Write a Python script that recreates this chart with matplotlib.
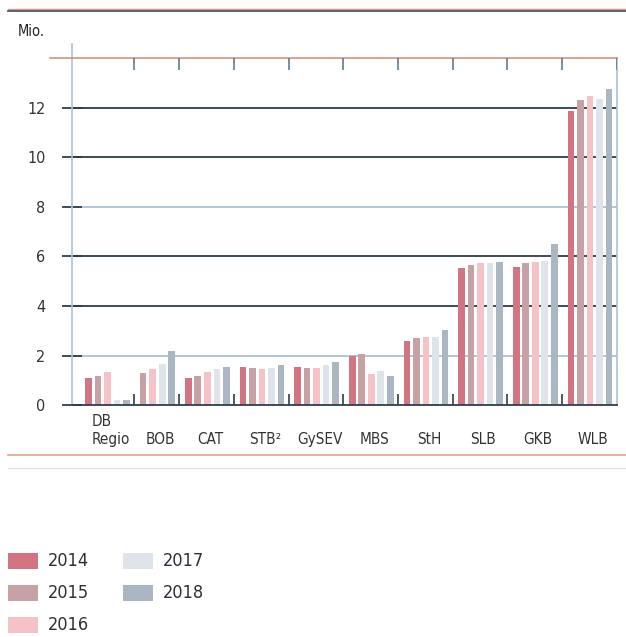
import numpy as np
import matplotlib
matplotlib.use("Agg")
import matplotlib.pyplot as plt
from matplotlib.lines import Line2D
from matplotlib.patches import Rectangle
from matplotlib.transforms import blended_transform_factory

plt.rcParams['font.family'] = ['DejaVu Sans']
plt.rcParams['font.stretch'] = 'condensed'

# data (Mio.)
categories = ["DB\nRegio", "BOB", "CAT", "STB²", "GySEV", "MBS", "StH", "SLB", "GKB", "WLB"]
years = ["2014", "2015", "2016", "2017", "2018"]
v2014 = [1.1, np.nan, 1.1, 1.55, 1.55, 2.0, 2.59, 5.54, 5.58, 11.88]
v2015 = [1.18, 1.3, 1.18, 1.5, 1.5, 2.07, 2.71, 5.66, 5.74, 12.32]
v2016 = [1.33, 1.46, 1.34, 1.46, 1.5, 1.26, 2.75, 5.74, 5.78, 12.48]
v2017 = [0.2, 1.67, 1.46, 1.5, 1.63, 1.38, 2.75, 5.74, 5.82, 12.36]
v2018 = [0.22, 2.2, 1.55, 1.63, 1.75, 1.18, 3.03, 5.78, 6.5, 12.73]
yticks = [0, 2, 4, 6, 8, 10, 12]

series = [v2014, v2015, v2016, v2017, v2018]
colors = ["#d27482", "#c6a2a6", "#f5c3c7", "#dfe4ea", "#aab6c2"]
dark = "#2e3d4c"
light = "#a9c3d6"
grid_colors = {2: light, 4: dark, 6: dark, 8: light, 10: dark, 12: dark}

fig = plt.figure(figsize=(6.26, 6.37), dpi=100)
ax = fig.add_axes([0.115, 0.364, 0.8706, 0.545])

gap = 1.74
x = 0.0
centers = []
bounds = []
for i, cat in enumerate(categories):
    xs = []
    for j, s in enumerate(series):
        if np.isnan(s[i]):
            continue
        ax.bar(x, s[i], width=0.7, color=colors[j], zorder=2)
        xs.append(x)
        x += 1
    centers.append(np.mean(xs))
    bounds.append(xs[-1] + 0.8)
    x += gap - 1

ax.set_xlim(-1.73, x - gap + 1 + 0.84 - 1)
ax.set_ylim(0, 14)

for v, c in grid_colors.items():
    ax.axhline(v, color=c, lw=1.3, zorder=1)

# group separator ticks
ax.vlines(bounds[:-1], 0, 0.45, color=dark, lw=1.2, zorder=3)
ax.vlines(bounds, 13.5, 14, color="#5f7a90", lw=1.2, zorder=3)

ax.set_xticks([])
ax.set_yticks(yticks)
ax.set_yticklabels([str(t) for t in yticks], fontsize=11.5, color="#333333")
ax.tick_params(axis='y', direction='inout', length=14, width=1.3, pad=12, color=dark)
for t in ax.yaxis.get_major_ticks():
    pass

for side in ['left', 'right']:
    ax.spines[side].set_color(light)
    ax.spines[side].set_linewidth(1.2)
ax.spines['bottom'].set_color(dark)
ax.spines['bottom'].set_linewidth(1.3)
ax.spines['top'].set_color("#d9907f")
ax.spines['top'].set_linewidth(1.2)
ax.plot([0, 0], [1, 1.04], transform=ax.transAxes, color=light, lw=1.2, clip_on=False)
ax.plot([-0.04, 0], [1, 1], transform=ax.transAxes, color="#d9907f", lw=1.2, clip_on=False)

trans = blended_transform_factory(ax.transData, ax.transAxes)
for c, lab in zip(centers, categories):
    ax.text(c + 0.3, -0.121, lab, transform=trans, ha='center', va='bottom',
            multialignment='left', fontsize=11, color="#333333", linespacing=1.25)

fig.text(18 / 626, 1 - 32 / 637, "Mio.", fontsize=10.5, va='center', ha='left', color="#222222")

# page rules
fig.add_artist(Line2D([0.012, 1], [1 - 9 / 637] * 2, color="#e8917a", lw=1.0))
fig.add_artist(Line2D([0.012, 1], [1 - 11 / 637] * 2, color="#3d4a57", lw=1.2))
fig.add_artist(Line2D([0.012, 1], [1 - 455 / 637] * 2, color="#e8a090", lw=1.2))
fig.add_artist(Line2D([0.012, 1], [1 - 468 / 637] * 2, color="#e3e3e3", lw=1.0))

# legend
legend_pos = [(8, 561), (8, 593), (8, 625), (123, 561), (123, 593)]
for (px, py), yr, c in zip(legend_pos, years, colors):
    fig.add_artist(Rectangle((px / 626, 1 - (py + 8) / 637), 30 / 626, 16 / 637,
                             facecolor=c, edgecolor='none'))
    fig.text((px + 40) / 626, 1 - py / 637, yr, fontsize=13, va='center', ha='left',
             color="#2a2f3a")

fig.savefig("out.png", dpi=100)
